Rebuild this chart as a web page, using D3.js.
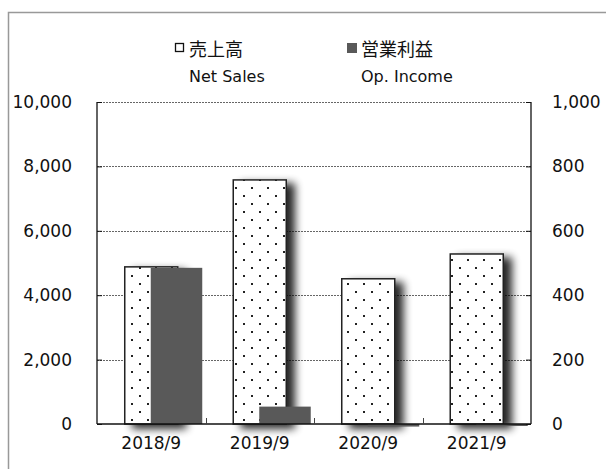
<!DOCTYPE html>
<html>
<head>
<meta charset="utf-8">
<script src="https://cdn.jsdelivr.net/npm/d3@7"></script>
<style>
  body { margin: 0; background: #fff; }
  svg text { font-family: "DejaVu Sans", "Noto Sans CJK JP", sans-serif; fill: #111; }
</style>
</head>
<body>
<div id="chart"></div>
<script>
// data
const years = ["2018/9", "2019/9", "2020/9", "2021/9"];
const netSales = [4880, 7580, 4510, 5280];   // left axis
const opIncome = [485, 54, -8, -6];          // right axis
const leftTicks = [0, 2000, 4000, 6000, 8000, 10000];
const rightTicks = [0, 200, 400, 600, 800, 1000];

const W = 606, H = 469;
const plot = { left: 97, right: 531, top: 102, bottom: 424 };

const svg = d3.select("#chart").append("svg")
  .attr("width", W).attr("height", H);

const defs = svg.append("defs");

// dotted fill for the net sales bars
const pat = defs.append("pattern")
  .attr("id", "dots")
  .attr("patternUnits", "userSpaceOnUse")
  .attr("width", 16).attr("height", 16);
pat.append("rect").attr("width", 16).attr("height", 16).attr("fill", "#fff");
pat.append("rect").attr("x", 3).attr("y", 3).attr("width", 2).attr("height", 2).attr("fill", "#222");
pat.append("rect").attr("x", 11).attr("y", 11).attr("width", 2).attr("height", 2).attr("fill", "#222");

// soft shadow to the lower right
const f = defs.append("filter").attr("id", "shadow")
  .attr("x", "-20%").attr("y", "-20%").attr("width", "170%").attr("height", "140%");
f.append("feGaussianBlur").attr("in", "SourceAlpha").attr("stdDeviation", 4).attr("result", "b");
f.append("feOffset").attr("in", "b").attr("dx", 8).attr("dy", 4).attr("result", "o");
f.append("feComponentTransfer").attr("in", "o").attr("result", "s")
  .append("feFuncA").attr("type", "linear").attr("slope", 0.85);
const m = f.append("feMerge");
m.append("feMergeNode").attr("in", "s");
m.append("feMergeNode").attr("in", "SourceGraphic");

// outer frame (runs off the right and bottom)
svg.append("rect")
  .attr("x", 8.5).attr("y", 12.5)
  .attr("width", 700).attr("height", 600)
  .attr("fill", "none").attr("stroke", "#999").attr("stroke-width", 1.5);

// scales
const x = d3.scaleBand().domain(years).range([plot.left, plot.right]).padding(0);
const yL = d3.scaleLinear().domain([0, 10000]).range([plot.bottom, plot.top]);
const yR = d3.scaleLinear().domain([0, 1000]).range([plot.bottom, plot.top]);
const bw = x.bandwidth();

// gridlines
svg.append("g")
  .selectAll("line")
  .data(leftTicks.filter(d => d > 0))
  .enter().append("line")
  .attr("x1", plot.left).attr("x2", plot.right)
  .attr("y1", d => Math.round(yL(d)) + 0.5).attr("y2", d => Math.round(yL(d)) + 0.5)
  .attr("stroke", "#666").attr("stroke-width", 1)
  .attr("stroke-dasharray", "2,1");

// net sales bars
svg.append("g")
  .selectAll("rect")
  .data(netSales)
  .enter().append("rect")
  .attr("x", (d, i) => x(years[i]) + bw / 2 - 26.5)
  .attr("y", d => yL(d))
  .attr("width", 53)
  .attr("height", d => yL(0) - yL(d))
  .attr("fill", "url(#dots)")
  .attr("stroke", "#222").attr("stroke-width", 1.5)
  .attr("filter", "url(#shadow)");

// operating income bars
svg.append("g")
  .selectAll("rect")
  .data(opIncome)
  .enter().append("rect")
  .attr("x", (d, i) => x(years[i]) + bw / 2 - 0.5)
  .attr("y", d => Math.min(yR(d), yR(0)))
  .attr("width", 51.5)
  .attr("height", d => Math.max(Math.abs(yR(0) - yR(d)), 2))
  .attr("fill", "#595959");

// frame lines of the plot
const ax = svg.append("g").attr("stroke", "#111").attr("stroke-width", 1.3);
ax.append("line").attr("x1", plot.left).attr("x2", plot.left).attr("y1", plot.top).attr("y2", plot.bottom);
ax.append("line").attr("x1", plot.right).attr("x2", plot.right).attr("y1", plot.top).attr("y2", plot.bottom);
ax.append("line").attr("x1", plot.left).attr("x2", plot.right).attr("y1", plot.bottom).attr("y2", plot.bottom);

// category separators
svg.append("g")
  .selectAll("line")
  .data(years.slice(1))
  .enter().append("line")
  .attr("x1", d => Math.round(x(d)) + 0.5).attr("x2", d => Math.round(x(d)) + 0.5)
  .attr("y1", plot.bottom - 6).attr("y2", plot.bottom)
  .attr("stroke", "#444").attr("stroke-width", 1);

// axes
const fmt = d3.format(",");
const left = svg.append("g")
  .attr("transform", "translate(" + plot.left + ",0)")
  .call(d3.axisLeft(yL).tickValues(leftTicks).tickSize(-5).tickPadding(25).tickFormat(fmt));
const right = svg.append("g")
  .attr("transform", "translate(" + plot.right + ",0)")
  .call(d3.axisRight(yR).tickValues(rightTicks).tickSize(-5).tickPadding(21).tickFormat(fmt));
const bottom = svg.append("g")
  .attr("transform", "translate(0," + plot.bottom + ")")
  .call(d3.axisBottom(x).tickSize(0).tickPadding(13));

[left, right, bottom].forEach(g => {
  g.select(".domain").remove();
  g.selectAll(".tick line").attr("stroke", "#111");
  g.selectAll("text").attr("font-size", 17).attr("fill", "#111")
    .attr("font-family", "DejaVu Sans, sans-serif");
});

// legend
const lg = svg.append("g").attr("font-size", 16);
lg.append("rect").attr("x", 175.5).attr("y", 43.5).attr("width", 8).attr("height", 8)
  .attr("fill", "#fff").attr("stroke", "#111").attr("stroke-width", 1.3);
lg.append("text").attr("x", 189).attr("y", 56).attr("font-size", 18).text("売上高");
lg.append("text").attr("x", 189).attr("y", 82).text("Net Sales");
lg.append("rect").attr("x", 347).attr("y", 43).attr("width", 10).attr("height", 10)
  .attr("fill", "#595959");
lg.append("text").attr("x", 361).attr("y", 56).attr("font-size", 18).text("営業利益");
lg.append("text").attr("x", 361).attr("y", 82).text("Op. Income");
</script>
</body>
</html>
